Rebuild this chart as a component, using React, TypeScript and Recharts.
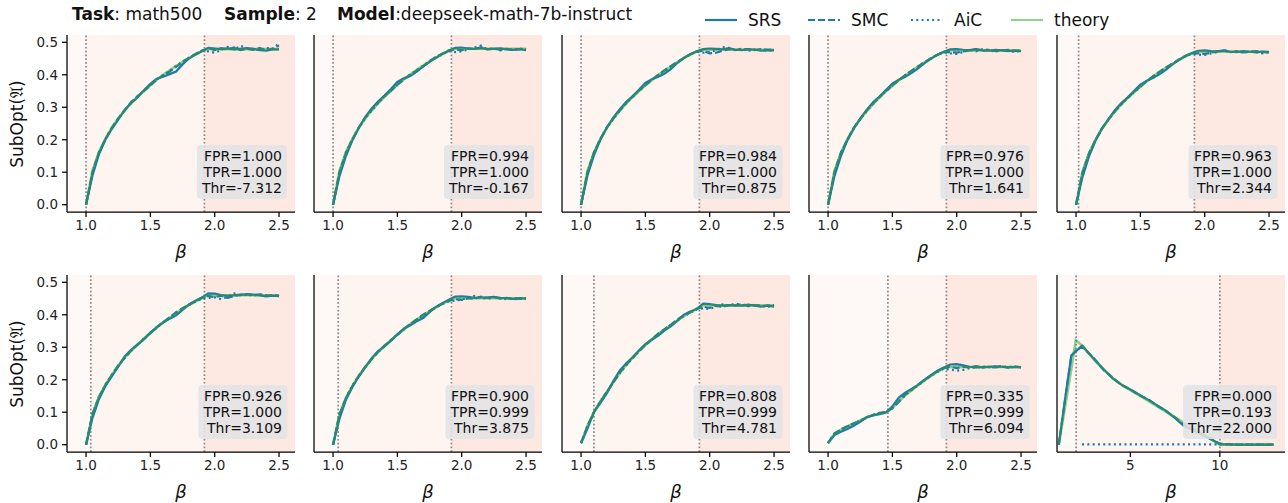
import React from "react";
import { LineChart, Line, XAxis, YAxis, ReferenceArea, ReferenceLine } from "recharts";

// beta grid shared by the first nine panels
const betaGrid = [1.0, 1.05, 1.1, 1.15, 1.2, 1.25, 1.3, 1.35, 1.4, 1.45, 1.5, 1.55, 1.6, 1.65, 1.7, 1.75, 1.8, 1.85, 1.9, 1.95, 2.0, 2.05, 2.1, 2.15, 2.2, 2.25, 2.3, 2.35, 2.4, 2.45, 2.5];
// the last panel sweeps a much wider beta range
const betaGridWide = [1, 1.35, 1.7, 1.95, 2.3, 3, 3.5, 4, 4.5, 5, 5.5, 6, 6.5, 7, 7.5, 8, 8.5, 9, 9.5, 10, 11, 12, 13];

const theory1 = [0, 0.105, 0.162, 0.203, 0.237, 0.265, 0.29, 0.312, 0.332, 0.35, 0.368, 0.385, 0.4, 0.414, 0.427, 0.44, 0.452, 0.463, 0.473, 0.48, 0.479, 0.479, 0.479, 0.479, 0.479, 0.479, 0.479, 0.479, 0.479, 0.479, 0.479];
const srs1 = [0, 0.09, 0.155, 0.2, 0.233, 0.262, 0.292, 0.313, 0.33, 0.352, 0.372, 0.388, 0.394, 0.402, 0.41, 0.432, 0.45, 0.462, 0.472, 0.483, 0.481, 0.479, 0.481, 0.478, 0.48, 0.482, 0.48, 0.476, 0.474, 0.478, 0.478];
const smc1 = [0, 0.1, 0.16, 0.2, 0.237, 0.266, 0.29, 0.316, 0.334, 0.35, 0.367, 0.386, 0.398, 0.41, 0.424, 0.44, 0.452, 0.464, 0.474, 0.482, 0.476, 0.482, 0.478, 0.484, 0.476, 0.48, 0.477, 0.483, 0.475, 0.481, 0.49];
const aic1 = [0, 0.1, 0.16, 0.202, 0.236, 0.264, 0.291, 0.312, 0.334, 0.352, 0.37, 0.385, 0.4, 0.412, 0.428, 0.44, 0.452, 0.464, 0.474, 0.472, 0.468, 0.476, 0.486, 0.478, 0.489, 0.482, 0.479, 0.476, 0.483, 0.479, 0.497];

const theory2 = [0, 0.105, 0.162, 0.203, 0.237, 0.265, 0.29, 0.312, 0.332, 0.351, 0.369, 0.386, 0.401, 0.415, 0.428, 0.441, 0.453, 0.464, 0.474, 0.481, 0.48, 0.48, 0.48, 0.48, 0.48, 0.48, 0.48, 0.48, 0.48, 0.48, 0.48];
const srs2 = [0, 0.088, 0.15, 0.198, 0.236, 0.27, 0.296, 0.318, 0.336, 0.356, 0.378, 0.389, 0.396, 0.41, 0.425, 0.44, 0.452, 0.465, 0.474, 0.483, 0.484, 0.481, 0.48, 0.482, 0.479, 0.48, 0.481, 0.478, 0.477, 0.479, 0.476];
const smc2 = [0, 0.1, 0.158, 0.2, 0.238, 0.268, 0.292, 0.314, 0.335, 0.35, 0.37, 0.385, 0.4, 0.413, 0.426, 0.442, 0.455, 0.465, 0.475, 0.478, 0.476, 0.481, 0.479, 0.485, 0.478, 0.481, 0.477, 0.48, 0.476, 0.479, 0.478];
const aic2 = [0, 0.098, 0.16, 0.202, 0.237, 0.266, 0.29, 0.313, 0.333, 0.352, 0.369, 0.386, 0.401, 0.414, 0.428, 0.441, 0.453, 0.463, 0.473, 0.47, 0.472, 0.478, 0.484, 0.49, 0.478, 0.481, 0.475, 0.48, 0.477, 0.481, 0.478];

const theory3 = [0, 0.104, 0.161, 0.202, 0.236, 0.264, 0.289, 0.311, 0.331, 0.35, 0.367, 0.384, 0.399, 0.413, 0.426, 0.439, 0.451, 0.462, 0.472, 0.478, 0.477, 0.477, 0.477, 0.477, 0.477, 0.477, 0.477, 0.477, 0.477, 0.477, 0.477];
const srs3 = [0, 0.09, 0.152, 0.2, 0.237, 0.268, 0.293, 0.316, 0.334, 0.354, 0.375, 0.386, 0.394, 0.404, 0.418, 0.437, 0.452, 0.464, 0.472, 0.479, 0.481, 0.48, 0.478, 0.482, 0.477, 0.476, 0.479, 0.477, 0.474, 0.476, 0.475];
const smc3 = [0, 0.1, 0.16, 0.202, 0.238, 0.265, 0.29, 0.313, 0.333, 0.351, 0.368, 0.385, 0.4, 0.414, 0.427, 0.44, 0.452, 0.463, 0.472, 0.474, 0.466, 0.468, 0.474, 0.479, 0.476, 0.48, 0.478, 0.476, 0.479, 0.477, 0.478];
const aic3 = [0, 0.1, 0.16, 0.203, 0.236, 0.265, 0.289, 0.312, 0.332, 0.35, 0.368, 0.384, 0.399, 0.412, 0.426, 0.439, 0.452, 0.463, 0.471, 0.468, 0.47, 0.476, 0.485, 0.483, 0.475, 0.478, 0.474, 0.478, 0.476, 0.474, 0.476];

const theory4 = [0, 0.104, 0.16, 0.201, 0.235, 0.263, 0.288, 0.31, 0.33, 0.349, 0.366, 0.383, 0.398, 0.412, 0.425, 0.438, 0.45, 0.461, 0.47, 0.476, 0.475, 0.475, 0.475, 0.475, 0.475, 0.475, 0.475, 0.475, 0.475, 0.475, 0.475];
const srs4 = [0, 0.088, 0.15, 0.198, 0.235, 0.265, 0.292, 0.315, 0.333, 0.353, 0.373, 0.385, 0.394, 0.406, 0.42, 0.436, 0.45, 0.462, 0.471, 0.478, 0.479, 0.477, 0.476, 0.479, 0.475, 0.474, 0.477, 0.475, 0.473, 0.475, 0.473];
const smc4 = [0, 0.1, 0.16, 0.2, 0.237, 0.264, 0.289, 0.312, 0.332, 0.35, 0.367, 0.384, 0.399, 0.413, 0.426, 0.439, 0.451, 0.462, 0.47, 0.47, 0.468, 0.472, 0.475, 0.478, 0.474, 0.477, 0.473, 0.475, 0.477, 0.473, 0.475];
const aic4 = [0, 0.1, 0.159, 0.201, 0.235, 0.264, 0.288, 0.311, 0.331, 0.349, 0.367, 0.383, 0.398, 0.412, 0.425, 0.438, 0.45, 0.461, 0.469, 0.466, 0.464, 0.47, 0.476, 0.472, 0.479, 0.476, 0.471, 0.476, 0.474, 0.47, 0.474];

const theory5 = [0, 0.102, 0.158, 0.199, 0.233, 0.261, 0.286, 0.308, 0.328, 0.346, 0.363, 0.38, 0.395, 0.409, 0.422, 0.434, 0.446, 0.457, 0.466, 0.472, 0.471, 0.471, 0.471, 0.471, 0.471, 0.471, 0.471, 0.471, 0.471, 0.471, 0.471];
const srs5 = [0, 0.085, 0.148, 0.196, 0.233, 0.262, 0.29, 0.312, 0.33, 0.35, 0.37, 0.382, 0.391, 0.402, 0.416, 0.432, 0.446, 0.458, 0.467, 0.474, 0.475, 0.473, 0.472, 0.475, 0.471, 0.47, 0.473, 0.471, 0.469, 0.471, 0.469];
const smc5 = [0, 0.098, 0.157, 0.198, 0.234, 0.262, 0.287, 0.309, 0.329, 0.347, 0.364, 0.381, 0.396, 0.41, 0.423, 0.435, 0.447, 0.458, 0.466, 0.466, 0.464, 0.468, 0.472, 0.474, 0.47, 0.472, 0.469, 0.471, 0.473, 0.469, 0.471];
const aic5 = [0, 0.098, 0.157, 0.198, 0.233, 0.261, 0.286, 0.308, 0.328, 0.346, 0.363, 0.38, 0.395, 0.409, 0.422, 0.434, 0.446, 0.457, 0.465, 0.462, 0.461, 0.466, 0.47, 0.476, 0.47, 0.473, 0.468, 0.472, 0.47, 0.466, 0.47];

const theory6 = [0, 0.095, 0.147, 0.184, 0.215, 0.243, 0.268, 0.289, 0.308, 0.326, 0.344, 0.361, 0.377, 0.391, 0.405, 0.418, 0.43, 0.441, 0.451, 0.461, 0.46, 0.46, 0.46, 0.46, 0.46, 0.46, 0.46, 0.46, 0.46, 0.46, 0.46];
const srs6 = [0, 0.082, 0.14, 0.18, 0.21, 0.24, 0.272, 0.292, 0.307, 0.325, 0.345, 0.362, 0.376, 0.388, 0.398, 0.415, 0.432, 0.443, 0.453, 0.466, 0.465, 0.461, 0.458, 0.46, 0.462, 0.463, 0.462, 0.46, 0.457, 0.459, 0.457];
const smc6 = [0, 0.094, 0.146, 0.183, 0.214, 0.244, 0.267, 0.29, 0.309, 0.325, 0.343, 0.362, 0.378, 0.392, 0.408, 0.42, 0.431, 0.442, 0.452, 0.458, 0.454, 0.459, 0.452, 0.458, 0.461, 0.464, 0.461, 0.463, 0.459, 0.461, 0.458];
const aic6 = [0, 0.095, 0.147, 0.185, 0.215, 0.242, 0.268, 0.289, 0.308, 0.327, 0.344, 0.36, 0.377, 0.39, 0.405, 0.418, 0.43, 0.44, 0.45, 0.452, 0.454, 0.448, 0.456, 0.466, 0.46, 0.462, 0.459, 0.462, 0.46, 0.458, 0.46];

const theory7 = [0, 0.093, 0.144, 0.181, 0.212, 0.239, 0.264, 0.285, 0.304, 0.322, 0.339, 0.355, 0.371, 0.385, 0.398, 0.411, 0.423, 0.434, 0.444, 0.452, 0.451, 0.451, 0.451, 0.451, 0.451, 0.451, 0.451, 0.451, 0.451, 0.451, 0.451];
const srs7 = [0, 0.08, 0.138, 0.177, 0.21, 0.238, 0.266, 0.288, 0.303, 0.32, 0.34, 0.357, 0.368, 0.38, 0.39, 0.408, 0.424, 0.436, 0.446, 0.456, 0.457, 0.455, 0.452, 0.454, 0.453, 0.455, 0.452, 0.451, 0.449, 0.451, 0.45];
const smc7 = [0, 0.092, 0.143, 0.18, 0.211, 0.24, 0.263, 0.286, 0.305, 0.321, 0.338, 0.356, 0.372, 0.386, 0.4, 0.412, 0.424, 0.434, 0.443, 0.448, 0.446, 0.451, 0.449, 0.456, 0.452, 0.455, 0.45, 0.452, 0.448, 0.45, 0.451];
const aic7 = [0, 0.093, 0.144, 0.182, 0.212, 0.238, 0.264, 0.285, 0.304, 0.323, 0.339, 0.354, 0.371, 0.384, 0.398, 0.41, 0.423, 0.433, 0.441, 0.444, 0.447, 0.452, 0.458, 0.453, 0.449, 0.454, 0.451, 0.448, 0.452, 0.449, 0.451];

const theory8 = [0.005, 0.058, 0.1, 0.133, 0.162, 0.192, 0.22, 0.245, 0.267, 0.288, 0.307, 0.324, 0.34, 0.355, 0.369, 0.383, 0.396, 0.408, 0.419, 0.43, 0.429, 0.429, 0.429, 0.429, 0.429, 0.429, 0.429, 0.429, 0.429, 0.429, 0.429];
const srs8 = [0.005, 0.05, 0.1, 0.128, 0.158, 0.195, 0.228, 0.25, 0.269, 0.29, 0.31, 0.323, 0.336, 0.352, 0.365, 0.382, 0.4, 0.41, 0.418, 0.434, 0.433, 0.43, 0.428, 0.43, 0.429, 0.428, 0.431, 0.428, 0.425, 0.428, 0.425];
const smc8 = [0.005, 0.057, 0.1, 0.132, 0.163, 0.19, 0.222, 0.246, 0.266, 0.289, 0.306, 0.325, 0.342, 0.356, 0.37, 0.386, 0.398, 0.408, 0.418, 0.425, 0.421, 0.428, 0.424, 0.43, 0.428, 0.433, 0.427, 0.43, 0.426, 0.428, 0.429];
const aic8 = [0.005, 0.058, 0.1, 0.134, 0.162, 0.192, 0.219, 0.244, 0.268, 0.287, 0.307, 0.323, 0.34, 0.354, 0.37, 0.383, 0.396, 0.407, 0.417, 0.42, 0.418, 0.425, 0.432, 0.428, 0.435, 0.43, 0.427, 0.431, 0.428, 0.424, 0.43];

const theory9 = [0.005, 0.033, 0.046, 0.056, 0.065, 0.075, 0.084, 0.091, 0.096, 0.1, 0.113, 0.133, 0.152, 0.168, 0.183, 0.198, 0.212, 0.225, 0.236, 0.24, 0.239, 0.239, 0.239, 0.239, 0.239, 0.239, 0.239, 0.239, 0.239, 0.239, 0.239];
const srs9 = [0.005, 0.03, 0.04, 0.048, 0.058, 0.07, 0.085, 0.09, 0.094, 0.099, 0.118, 0.145, 0.16, 0.172, 0.184, 0.2, 0.214, 0.228, 0.238, 0.247, 0.248, 0.244, 0.24, 0.238, 0.239, 0.24, 0.241, 0.24, 0.238, 0.239, 0.238];
const smc9 = [0.005, 0.035, 0.047, 0.057, 0.066, 0.073, 0.083, 0.092, 0.098, 0.101, 0.112, 0.132, 0.154, 0.17, 0.185, 0.2, 0.213, 0.226, 0.236, 0.24, 0.236, 0.24, 0.238, 0.242, 0.237, 0.24, 0.238, 0.241, 0.237, 0.24, 0.239];
const aic9 = [0.005, 0.034, 0.046, 0.056, 0.065, 0.075, 0.084, 0.091, 0.096, 0.1, 0.113, 0.133, 0.152, 0.168, 0.183, 0.198, 0.212, 0.224, 0.234, 0.231, 0.228, 0.23, 0.236, 0.238, 0.241, 0.238, 0.24, 0.242, 0.239, 0.241, 0.238];

const theory10 = [0, 0.117, 0.233, 0.322, 0.305, 0.26, 0.232, 0.205, 0.185, 0.168, 0.152, 0.135, 0.118, 0.101, 0.084, 0.067, 0.05, 0.034, 0.017, 0, 0, 0, 0];
const srs10 = [0, 0.14, 0.275, 0.287, 0.305, 0.262, 0.232, 0.205, 0.185, 0.17, 0.154, 0.138, 0.121, 0.104, 0.082, 0.057, 0.045, 0.032, 0.017, 0.002, 0, 0, 0];
const smc10 = [0, 0.138, 0.272, 0.29, 0.302, 0.264, 0.23, 0.207, 0.183, 0.17, 0.152, 0.14, 0.12, 0.103, 0.084, 0.06, 0.047, 0.03, 0.018, 0.003, 0, 0, 0];
const aic10 = [null, null, null, null, 0.001, 0.001, 0.001, 0.001, 0.001, 0.001, 0.001, 0.001, 0.001, 0.001, 0.001, 0.001, 0.001, 0.001, 0.001, 0.001, 0, 0, 0];

const fprLabels = ["1.000", "0.994", "0.984", "0.976", "0.963", "0.926", "0.900", "0.808", "0.335", "0.000"];
const tprLabels = ["1.000", "1.000", "1.000", "1.000", "1.000", "1.000", "0.999", "0.999", "0.999", "0.193"];
const thrLabels = ["-7.312", "-0.167", "0.875", "1.641", "2.344", "3.109", "3.875", "4.781", "6.094", "22.000"];
// dotted cut-offs (region boundaries) per panel
const firstCut = [1.0, 1.0, 1.0, 1.0, 1.02, 1.037, 1.04, 1.1, 1.465, 1.97];
const secondCut = [1.92, 1.92, 1.92, 1.92, 1.92, 1.92, 1.92, 1.92, 1.92, 10];

const seriesByPanel = [
  [srs1, smc1, aic1, theory1],
  [srs2, smc2, aic2, theory2],
  [srs3, smc3, aic3, theory3],
  [srs4, smc4, aic4, theory4],
  [srs5, smc5, aic5, theory5],
  [srs6, smc6, aic6, theory6],
  [srs7, smc7, aic7, theory7],
  [srs8, smc8, aic8, theory8],
  [srs9, smc9, aic9, theory9],
  [srs10, smc10, aic10, theory10],
];

const yTicks = [0, 0.1, 0.2, 0.3, 0.4, 0.5];
const xTicksNarrow = [1, 1.5, 2, 2.5];
const xTicksWide = [5, 10];

const FONT = "'DejaVu Sans', sans-serif";
const BLUE = "#1f77b4";
const COL_X = [67, 314, 562, 809, 1057];
const ROW_Y = [35, 275];
const AX_W = 228;
const AX_H = 177;
const ML = 50;
const MT = 6;
const MR = 6;
const MB = 40;

function Panel({ idx }: { idx: number }) {
  const col = idx % 5;
  const row = Math.floor(idx / 5);
  const wide = idx === 9;
  const grid = wide ? betaGridWide : betaGrid;
  const [srs, smc, aic, theory] = seriesByPanel[idx];
  const data = grid.map((b, i) => ({ beta: b, srs: srs[i], smc: smc[i], aic: aic[i], theory: theory[i] }));
  const xDomain: [number, number] = wide ? [0.9, 13.64] : [0.852, 2.624];
  const left = COL_X[col];
  const top = ROW_Y[row];

  return (
    <>
      <div style={{ position: "absolute", left: left - ML, top: top - MT }}>
        <LineChart width={AX_W + ML + MR} height={AX_H + MT + MB} data={data} margin={{ top: MT, right: MR, left: 0, bottom: 0 }}>
          <XAxis
            type="number"
            dataKey="beta"
            domain={xDomain}
            allowDataOverflow
            ticks={wide ? xTicksWide : xTicksNarrow}
            tickFormatter={(v: number) => (wide ? String(v) : v.toFixed(1))}
            height={MB}
            stroke="#000"
            strokeWidth={1.25}
            tickSize={5}
            tickMargin={3}
            tick={{ fill: "#222", fontSize: 13.5, fontFamily: FONT }}
          />
          <YAxis
            type="number"
            domain={[-0.0225, 0.5225]}
            allowDataOverflow
            ticks={yTicks}
            tickFormatter={(v: number) => v.toFixed(1)}
            width={ML}
            stroke="#000"
            strokeWidth={1.25}
            tickSize={5}
            tickMargin={4}
            tick={col === 0 ? { fill: "#222", fontSize: 13.5, fontFamily: FONT } : false}
          />
          <ReferenceArea x1={xDomain[0]} x2={firstCut[idx]} fill="#fef8f7" fillOpacity={1} stroke="none" />
          <ReferenceArea x1={firstCut[idx]} x2={secondCut[idx]} fill="#fef5f0" fillOpacity={1} stroke="none" />
          <ReferenceArea x1={secondCut[idx]} x2={xDomain[1]} fill="#fde9e2" fillOpacity={1} stroke="none" />
          <ReferenceLine x={firstCut[idx]} stroke="#8f8686" strokeWidth={1.7} strokeDasharray="1.7 2.1" />
          <ReferenceLine x={secondCut[idx]} stroke="#8f8686" strokeWidth={1.7} strokeDasharray="1.7 2.1" />
          <Line dataKey="srs" stroke={BLUE} strokeWidth={2.2} dot={false} isAnimationActive={false} />
          <Line dataKey="smc" stroke={BLUE} strokeWidth={2.2} strokeDasharray="7 3" dot={false} isAnimationActive={false} />
          <Line dataKey="aic" stroke={BLUE} strokeWidth={2.2} strokeDasharray="2 3.3" dot={false} isAnimationActive={false} />
          <Line dataKey="theory" stroke="#2ca02c" strokeOpacity={0.5} strokeWidth={2.6} dot={false} isAnimationActive={false} />
        </LineChart>
      </div>
      <div
        style={{
          position: "absolute",
          left: left + AX_W - 8,
          top: top + AX_H - 13,
          transform: "translate(-100%, -100%)",
          background: "rgba(226,226,229,0.88)",
          borderRadius: 4,
          padding: "3px 5px",
          fontSize: 14,
          lineHeight: "16px",
          textAlign: "right",
          whiteSpace: "nowrap",
          color: "#111",
        }}
      >
        <div>FPR={fprLabels[idx]}</div>
        <div>TPR={tprLabels[idx]}</div>
        <div>Thr={thrLabels[idx]}</div>
      </div>
      <div
        style={{
          position: "absolute",
          left: left + AX_W / 2,
          top: top + AX_H + 39,
          transform: "translate(-50%, -50%)",
          fontSize: 18,
          fontStyle: "italic",
        }}
      >
        β
      </div>
      {col === 0 && (
        <div
          style={{
            position: "absolute",
            left: 17,
            top: top + AX_H / 2,
            transform: "translate(-50%, -50%) rotate(-90deg)",
            fontSize: 17,
            whiteSpace: "nowrap",
          }}
        >
          SubOpt(𝔄)
        </div>
      )}
    </>
  );
}

const legendItems = [
  { label: "SRS", x: 705, dash: undefined as string | undefined, color: BLUE, opacity: 1 },
  { label: "SMC", x: 808, dash: "7 3", color: BLUE, opacity: 1 },
  { label: "AiC", x: 911, dash: "2 3.3", color: BLUE, opacity: 1 },
  { label: "theory", x: 1011, dash: undefined, color: "#2ca02c", opacity: 0.5 },
];

const titleStyle: React.CSSProperties = { position: "absolute", top: 6, fontSize: 17, lineHeight: "17px", whiteSpace: "pre" };

export default function App() {
  const panels = Array.from({ length: 10 }, (_, i) => i);
  return (
    <div style={{ position: "absolute", left: 0, top: 0, width: 1288, height: 503, background: "#fff", fontFamily: FONT, color: "#111", overflow: "hidden" }}>
      <div style={{ ...titleStyle, left: 72 }}>
        <b>Task</b>: math500
      </div>
      <div style={{ ...titleStyle, left: 224 }}>
        <b>Sample</b>: 2
      </div>
      <div style={{ ...titleStyle, left: 337 }}>
        <b>Model</b>:deepseek-math-7b-instruct
      </div>
      <svg style={{ position: "absolute", left: 0, top: 0 }} width={1288} height={34}>
        {legendItems.map((it) => (
          <g key={it.label}>
            <line x1={it.x} x2={it.x + 32} y1={20} y2={20} stroke={it.color} strokeOpacity={it.opacity} strokeWidth={2.2} strokeDasharray={it.dash} />
            <text x={it.x + 43} y={26} fontSize={17} fontFamily={FONT} fill="#111">
              {it.label}
            </text>
          </g>
        ))}
      </svg>
      {panels.map((i) => (
        <Panel key={i} idx={i} />
      ))}
    </div>
  );
}
